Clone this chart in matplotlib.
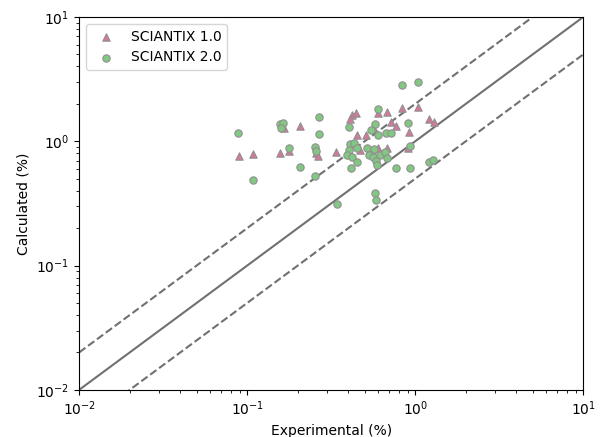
import numpy as np
from matplotlib import pyplot as plt

# SCIANTIX 1.0 (triangles)
exp_v1 = [0.0895, 0.109, 0.166, 0.206, 0.157, 0.178, 0.258, 0.265, 0.422, 0.446,
          0.410, 0.339, 0.452, 0.510, 0.603, 0.555, 0.603, 0.680, 0.838, 1.04,
          0.720, 0.765, 0.921, 1.21, 1.30, 0.680, 0.910, 0.470, 0.560]
calc_v1 = [0.764, 0.792, 1.28, 1.33, 0.807, 0.838, 0.807, 0.764, 1.62, 1.69,
           1.51, 0.822, 1.13, 1.13, 0.885, 0.853, 1.69, 1.72, 1.86, 1.89,
           1.43, 1.33, 1.19, 1.51, 1.43, 0.885, 0.885, 0.853, 1.30]

# SCIANTIX 2.0 (circles)
exp_v2 = [0.0885, 0.109, 0.157, 0.163, 0.159, 0.178, 0.206, 0.268, 0.268, 0.254,
          0.258, 0.254, 0.405, 0.838, 1.04, 0.603, 0.578, 0.545, 0.910, 0.603,
          0.671, 0.720, 0.410, 0.434, 0.405, 0.394, 0.422, 0.452, 0.452, 0.416,
          0.517, 0.570, 0.531, 0.562, 0.620, 0.662, 0.680, 0.586, 0.594, 0.765,
          0.935, 0.935, 1.21, 1.28, 0.578, 0.586, 0.343]
calc_v2 = [1.17, 0.489, 1.38, 1.40, 1.28, 0.885, 0.624, 1.58, 1.15, 0.902,
           0.838, 0.527, 1.30, 2.84, 3.00, 1.82, 1.38, 1.23, 1.40, 1.13,
           1.17, 1.17, 0.953, 0.971, 0.853, 0.778, 0.750, 0.885, 0.683, 0.612,
           0.885, 0.869, 0.778, 0.750, 0.778, 0.822, 0.736, 0.696, 0.647, 0.612,
           0.612, 0.919, 0.683, 0.709, 0.385, 0.339, 0.314]

lims = [1e-2, 1e1]


def main():
    fig = plt.figure(figsize=(6.0, 4.37), dpi=100)
    ax = fig.add_axes([0.132, 0.108, 0.840, 0.853])

    ref = np.array(lims)
    ax.plot(ref, ref, color='#707070', lw=1.5, zorder=1)
    ax.plot(ref, 2 * ref, color='#707070', lw=1.5, ls='--', zorder=1)
    ax.plot(ref, ref / 2, color='#707070', lw=1.5, ls='--', zorder=1)

    ax.scatter(exp_v1, calc_v1, marker='^', s=28, color='#d4789e',
               edgecolors='#909090', linewidths=0.8, label='SCIANTIX 1.0', zorder=3)
    ax.scatter(exp_v2, calc_v2, marker='o', s=28, color='#82c882',
               edgecolors='#909090', linewidths=0.8, label='SCIANTIX 2.0', zorder=3)

    ax.set_xscale('log')
    ax.set_yscale('log')
    ax.set_xlim(lims)
    ax.set_ylim(lims)
    ax.set_xlabel('Experimental (%)')
    ax.set_ylabel('Calculated (%)')
    ax.legend(loc='upper left', fontsize=10)

    fig.savefig('out.png', dpi=100)


if __name__ == '__main__':
    main()
